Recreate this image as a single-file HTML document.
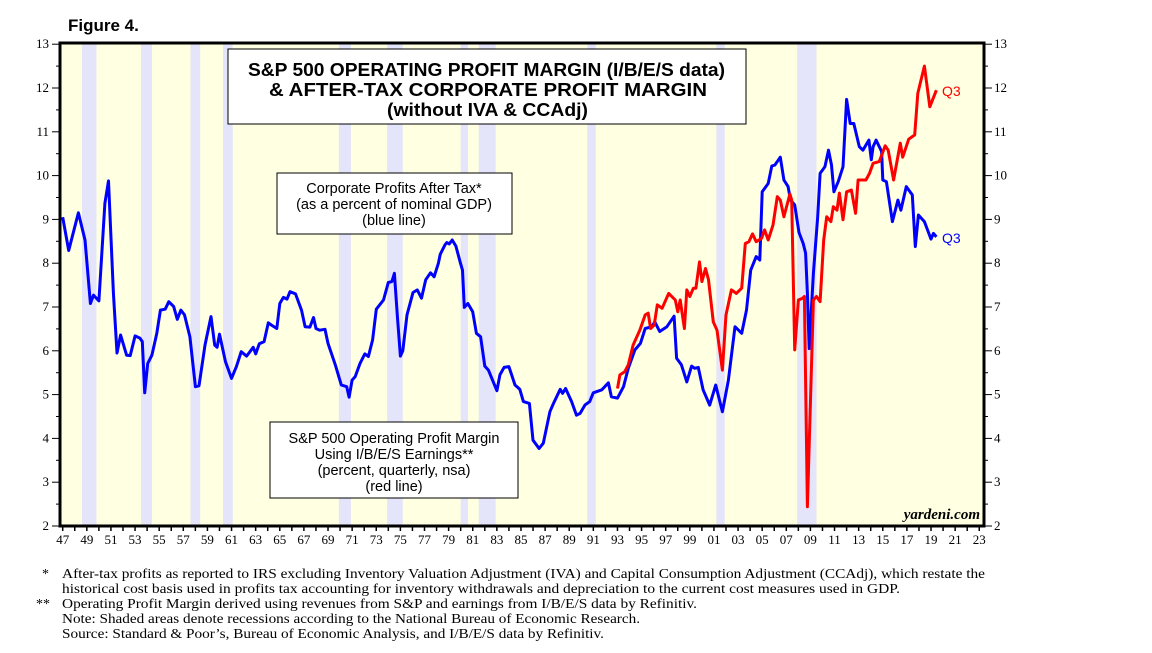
<!DOCTYPE html>
<html><head><meta charset="utf-8">
<style>
body{margin:0;background:#fff;width:1152px;height:648px;overflow:hidden;font-family:"Liberation Sans",sans-serif}
svg text{font-family:"Liberation Sans",sans-serif}
.ser{font-family:"Liberation Serif",serif}
</style></head><body>
<svg id="chart" width="1152" height="648" viewBox="0 0 1152 648" xmlns="http://www.w3.org/2000/svg">
<text x="68" y="31" font-size="17" font-weight="bold">Figure 4.</text>
<rect x="60" y="43" width="924" height="483" fill="#ffffe2"/>
<g id="bands"></g>
<g id="lines"></g>
<rect x="60" y="43" width="924" height="483" fill="none" stroke="#000" stroke-width="3"/>
<g id="axes"></g>
<g>
<rect x="228" y="49" width="518" height="75" fill="#fff" stroke="#000" stroke-width="1"/>
<text x="248" y="76" font-size="18" font-weight="bold" textLength="477" lengthAdjust="spacingAndGlyphs">S&amp;P 500 OPERATING PROFIT MARGIN (I/B/E/S data)</text>
<text x="269" y="96" font-size="18" font-weight="bold" textLength="438" lengthAdjust="spacingAndGlyphs">&amp; AFTER-TAX CORPORATE PROFIT MARGIN</text>
<text x="387" y="116" font-size="18" font-weight="bold" textLength="201" lengthAdjust="spacingAndGlyphs">(without IVA &amp; CCAdj)</text>
</g>
<g>
<rect x="277" y="173" width="235" height="61" fill="#fff" stroke="#000"/>
<text x="394" y="193" font-size="14.5" text-anchor="middle">Corporate Profits After Tax*</text>
<text x="394" y="209" font-size="14.5" text-anchor="middle">(as a percent of nominal GDP)</text>
<text x="394" y="225" font-size="14.5" text-anchor="middle">(blue line)</text>
</g>
<g>
<rect x="270" y="422" width="248" height="76" fill="#fff" stroke="#000"/>
<text x="394" y="443" font-size="14.5" text-anchor="middle">S&amp;P 500 Operating Profit Margin</text>
<text x="394" y="459" font-size="14.5" text-anchor="middle">Using I/B/E/S Earnings**</text>
<text x="394" y="475" font-size="14.5" text-anchor="middle">(percent, quarterly, nsa)</text>
<text x="394" y="491" font-size="14.5" text-anchor="middle">(red line)</text>
</g>
<text x="942" y="96" font-size="14" fill="#f00">Q3</text>
<text x="942" y="243" font-size="14" fill="#00f">Q3</text>
<text class="ser" x="980" y="519" font-size="15" font-style="italic" font-weight="bold" text-anchor="end">yardeni.com</text>
<g class="ser" font-size="14">
<text class="ser" x="42" y="578">*</text>
<text class="ser" x="62" y="578" textLength="923" lengthAdjust="spacingAndGlyphs">After-tax profits as reported to IRS excluding Inventory Valuation Adjustment (IVA) and Capital Consumption Adjustment (CCAdj), which restate the</text>
<text class="ser" x="62" y="593" textLength="838" lengthAdjust="spacingAndGlyphs">historical cost basis used in profits tax accounting for inventory withdrawals and depreciation to the current cost measures used in GDP.</text>
<text class="ser" x="36" y="608">**</text>
<text class="ser" x="62" y="608" textLength="635" lengthAdjust="spacingAndGlyphs">Operating Profit Margin derived using revenues from S&amp;P and earnings from I/B/E/S data by Refinitiv.</text>
<text class="ser" x="62" y="623" textLength="578" lengthAdjust="spacingAndGlyphs">Note: Shaded areas denote recessions according to the National Bureau of Economic Research.</text>
<text class="ser" x="62" y="638" textLength="542" lengthAdjust="spacingAndGlyphs">Source: Standard &amp; Poor’s, Bureau of Economic Analysis, and I/B/E/S data by Refinitiv.</text>
</g>
</svg>
<script>
const recessionStarts=[1948.6,1953.5,1957.6,1960.3,1969.9,1973.9,1980.0,1981.5,1990.5,2001.2,2007.9];
const recessionEnds=[1949.8,1954.4,1958.4,1961.1,1970.9,1975.2,1980.6,1982.9,1991.2,2001.9,2009.5];
const blueYears=[1947.0,1947.5,1948.3,1948.85,1949.3,1949.55,1950.0,1950.5,1950.8,1951.2,1951.5,1951.8,1952.3,1952.6,1953.0,1953.4,1953.6,1953.8,1954.05,1954.4,1954.8,1955.1,1955.5,1955.8,1956.2,1956.5,1956.8,1957.1,1957.55,1958.0,1958.3,1958.8,1959.3,1959.6,1959.8,1960.0,1960.5,1961.0,1961.4,1961.8,1962.25,1962.8,1963.0,1963.3,1963.7,1964.05,1964.3,1964.75,1965.0,1965.3,1965.6,1965.85,1966.3,1966.8,1967.1,1967.5,1967.8,1968.0,1968.3,1968.75,1969.0,1969.6,1970.1,1970.55,1970.75,1971.0,1971.25,1971.65,1972.05,1972.35,1972.7,1973.0,1973.6,1974.0,1974.3,1974.5,1974.75,1975.0,1975.2,1975.55,1976.05,1976.4,1976.75,1977.1,1977.5,1977.8,1978.15,1978.3,1978.7,1978.85,1979.05,1979.3,1979.6,1979.95,1980.15,1980.3,1980.6,1981.0,1981.3,1981.65,1982.0,1982.3,1983.0,1983.25,1983.6,1984.0,1984.5,1984.9,1985.2,1985.7,1986.0,1986.5,1986.85,1987.4,1987.7,1988.25,1988.45,1988.7,1989.2,1989.6,1989.9,1990.3,1990.7,1991.0,1991.7,1992.25,1992.5,1993.0,1993.5,1993.9,1994.45,1994.9,1995.3,1995.85,1996.1,1996.5,1997.1,1997.7,1997.9,1998.3,1998.75,1999.15,1999.4,1999.7,2000.1,2000.65,2001.15,2001.7,2002.2,2002.75,2003.3,2003.7,2004.05,2004.5,2004.8,2005.0,2005.5,2005.8,2006.05,2006.5,2006.8,2007.15,2007.35,2007.7,2008.05,2008.4,2008.6,2008.75,2008.9,2009.25,2009.6,2009.8,2010.2,2010.5,2010.75,2010.95,2011.3,2011.7,2012.0,2012.3,2012.6,2013.05,2013.35,2013.85,2014.05,2014.2,2014.45,2014.9,2015.0,2015.3,2015.8,2016.25,2016.5,2016.95,2017.45,2017.7,2017.95,2018.45,2019.0,2019.2,2019.45];
const blueValues=[9.05,8.29,9.15,8.53,7.08,7.27,7.14,9.37,9.88,7.32,5.95,6.36,5.90,5.89,6.34,6.29,6.21,5.04,5.71,5.90,6.40,6.93,6.95,7.12,7.01,6.72,6.93,6.82,6.32,5.18,5.20,6.13,6.78,6.13,6.08,6.38,5.75,5.37,5.64,5.98,5.88,6.08,5.93,6.16,6.21,6.64,6.59,6.51,7.08,7.22,7.18,7.35,7.30,6.93,6.55,6.54,6.76,6.51,6.47,6.49,6.17,5.68,5.22,5.18,4.94,5.33,5.41,5.71,5.93,5.87,6.25,6.95,7.16,7.56,7.58,7.77,6.78,5.88,6.00,6.82,7.33,7.39,7.20,7.62,7.78,7.69,8.00,8.20,8.42,8.47,8.44,8.53,8.39,8.03,7.84,6.99,7.08,6.89,6.40,6.32,5.65,5.56,5.09,5.45,5.62,5.64,5.22,5.12,4.84,4.80,3.96,3.77,3.89,4.61,4.80,5.12,5.03,5.14,4.84,4.53,4.57,4.76,4.84,5.04,5.11,5.27,4.95,4.92,5.18,5.60,6.02,6.17,6.51,6.55,6.66,6.44,6.55,6.79,5.83,5.68,5.29,5.65,5.60,5.62,5.11,4.76,5.22,4.61,5.33,6.55,6.40,6.93,7.84,8.15,8.07,9.63,9.82,10.22,10.24,10.42,9.90,9.75,9.44,9.33,8.70,8.45,8.23,7.31,6.05,7.77,9.06,10.05,10.20,10.58,10.24,9.63,9.86,10.20,11.74,11.19,11.19,10.66,10.58,10.81,10.36,10.66,10.81,10.55,9.90,9.86,8.95,9.44,9.21,9.75,9.56,8.38,9.10,8.95,8.55,8.68,8.60];
const redYears=[1993.0,1993.2,1993.6,1993.9,1994.3,1994.85,1995.3,1995.55,1995.75,1996.05,1996.3,1996.7,1997.25,1997.8,1998.0,1998.2,1998.55,1998.75,1999.0,1999.3,1999.5,1999.8,2000.0,2000.3,2000.55,2000.95,2001.25,2001.7,2002.0,2002.45,2002.85,2003.3,2003.6,2003.9,2004.2,2004.5,2004.95,2005.2,2005.5,2005.9,2006.25,2006.5,2006.8,2007.3,2007.45,2007.7,2008.0,2008.35,2008.5,2008.75,2009.25,2009.5,2009.8,2010.1,2010.35,2010.7,2010.9,2011.2,2011.4,2011.7,2012.0,2012.4,2012.75,2012.95,2013.6,2013.9,2014.2,2014.7,2015.2,2015.45,2015.9,2016.45,2016.65,2017.15,2017.65,2017.9,2018.45,2018.9,2019.45];
const redValues=[5.14,5.45,5.52,5.68,6.13,6.47,6.82,6.86,6.51,6.59,7.05,6.97,7.31,7.16,6.89,7.16,6.51,7.39,7.24,7.43,7.43,8.03,7.58,7.88,7.62,6.66,6.47,5.56,6.82,7.39,7.31,7.43,8.45,8.49,8.67,8.49,8.57,8.76,8.53,8.87,9.52,9.44,9.06,9.58,9.44,6.02,7.16,7.20,7.24,2.44,7.16,7.24,7.12,8.53,9.06,8.95,9.29,9.21,9.60,8.99,9.63,9.67,9.14,9.90,9.90,10.05,10.28,10.32,10.68,10.58,9.90,10.74,10.42,10.83,10.93,11.88,12.50,11.57,11.95];
const yTicks=[2,3,4,5,6,7,8,9,10,11,12,13];
const xLabels=['47','49','51','53','55','57','59','61','63','65','67','69','71','73','75','77','79','81','83','85','87','89','91','93','95','97','99','01','03','05','07','09','11','13','15','17','19','21','23'];

const NS='http://www.w3.org/2000/svg';
const X0=62.7, XS=12.06, Y0=526, YS=43.8;
function xs(yr){return X0+(yr-1947)*XS;}
function ys(v){return Y0-(v-2)*YS;}
function mk(tag,attrs,parent){const e=document.createElementNS(NS,tag);for(const k in attrs)e.setAttribute(k,attrs[k]);parent.appendChild(e);return e;}

const bands=document.getElementById('bands');
recessionStarts.forEach((s,i)=>{
  const r=mk('rect',{x:xs(s),y:44,width:xs(recessionEnds[i])-xs(s),height:481,fill:'#e4e4fa'},bands);
  
  
});

const lines=document.getElementById('lines');
function poly(yrs,vals,color,name){
  const p=mk('polyline',{points:yrs.map((y,i)=>xs(y).toFixed(1)+','+ys(vals[i]).toFixed(1)).join(' '),fill:'none',stroke:color,'stroke-width':3,'stroke-linejoin':'round'},lines);
  
  
}
poly(blueYears,blueValues,'#0000ff','corporate-profits-line');
poly(redYears,redValues,'#ff0000','sp500-margin-line');

const axes=document.getElementById('axes');
yTicks.forEach(v=>{
  const y=ys(v);
  mk('line',{x1:52,x2:60,y1:y,y2:y,stroke:'#000'},axes);
  mk('line',{x1:984,x2:992,y1:y,y2:y,stroke:'#000'},axes);
  if(v<13){mk('line',{x1:56,x2:60,y1:ys(v+0.5),y2:ys(v+0.5),stroke:'#000'},axes);mk('line',{x1:984,x2:988,y1:ys(v+0.5),y2:ys(v+0.5),stroke:'#000'},axes);}
  const t1=mk('text',{x:49,y:y+4,'font-size':13,'text-anchor':'end',class:'ser'},axes);t1.textContent=v;
  
  
  const t2=mk('text',{x:994,y:y+4,'font-size':13,class:'ser'},axes);t2.textContent=v;
  
  
});
for(let yr=1947;yr<=2023;yr++){
  mk('line',{x1:xs(yr),x2:xs(yr),y1:526,y2:531,stroke:'#000','stroke-width':1.5},axes);
}
xLabels.forEach((l,i)=>{
  const t=mk('text',{x:xs(1947+2*i),y:544,'font-size':13,'text-anchor':'middle',class:'ser'},axes);t.textContent=l;
  
  
});
</script>
</body></html>
